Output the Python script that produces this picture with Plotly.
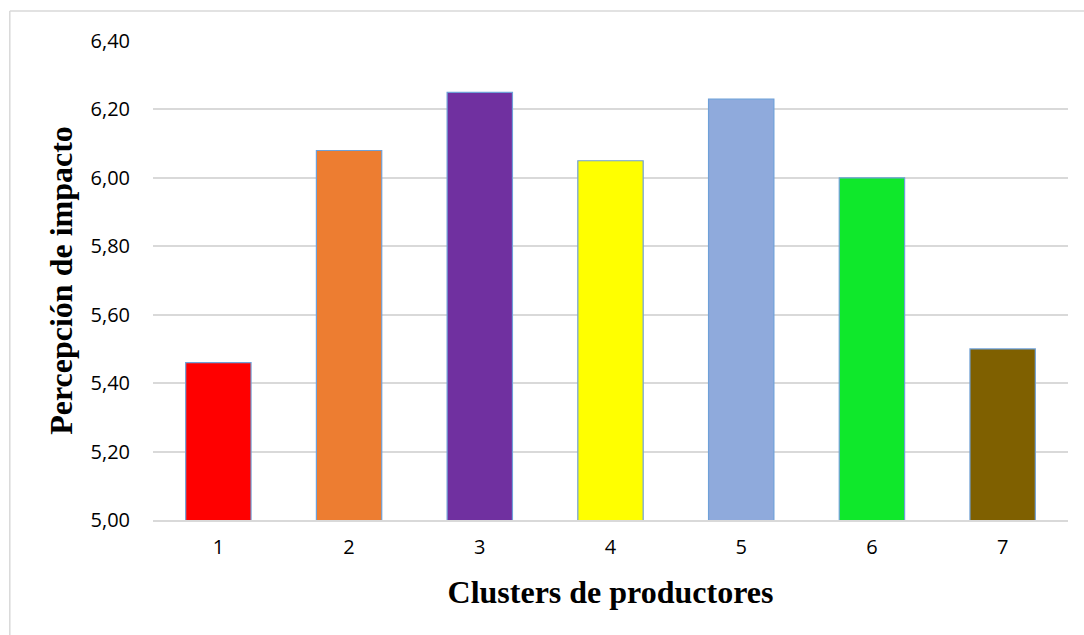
import plotly.graph_objects as go

categories = ["1", "2", "3", "4", "5", "6", "7"]
values = [5.46, 6.08, 6.25, 6.05, 6.23, 6.00, 5.50]
colors = ["#FF0000", "#ED7D31", "#7030A0", "#FFFF00", "#8FAADC", "#0FE82B", "#7F6000"]
y_ticks = [5.0, 5.2, 5.4, 5.6, 5.8, 6.0, 6.2, 6.4]
y_tick_labels = ["5,00", "5,20", "5,40", "5,60", "5,80", "6,00", "6,20", "6,40"]

fig = go.Figure()
fig.add_trace(go.Bar(
    x=categories, y=values,
    marker=dict(color=colors, line=dict(color="#6FA0D8", width=1.2)),
    width=0.5,
))

fig.update_layout(
    width=1084, height=635,
    margin=dict(l=153, r=16, t=41, b=115),
    paper_bgcolor="white", plot_bgcolor="white",
    showlegend=False,
    font=dict(family="Open Sans, Liberation Sans, sans-serif", color="#000000"),
    shapes=[
        dict(type="line", xref="paper", yref="paper", x0=-0.1565, x1=1.2, y0=1.0626, y1=1.0626,
             line=dict(color="#D9D9D9", width=1.5)),
        dict(type="line", xref="paper", yref="paper", x0=-0.1565, x1=-0.1565, y0=1.0626, y1=-0.3,
             line=dict(color="#D9D9D9", width=1.5)),
    ],
)
fig.update_xaxes(
    type="category", showgrid=False, showline=True, linecolor="#D9D9D9", linewidth=1.5,
    ticks="", ticklabelstandoff=8,
    tickfont=dict(size=20, family="Open Sans, sans-serif", color="#000"),
    title=dict(text="<b>Clusters de productores</b>", standoff=22,
               font=dict(family="Liberation Serif, serif", size=32, color="#000")),
)
fig.update_yaxes(
    range=[5.0, 6.4], tickvals=y_ticks, ticktext=y_tick_labels,
    showgrid=True, gridcolor="#D9D9D9", gridwidth=1.5, zeroline=False, showline=False,
    ticks="", ticklabelstandoff=22,
    tickfont=dict(size=20, family="Open Sans, sans-serif", color="#000"),
    title=dict(text="<b>Percepción de impacto</b>", standoff=8,
               font=dict(family="Liberation Serif, serif", size=32, color="#000")),
)

fig.write_html("out.html", config={"displayModeBar": False},
               post_script="document.body.style.margin='0px';")
